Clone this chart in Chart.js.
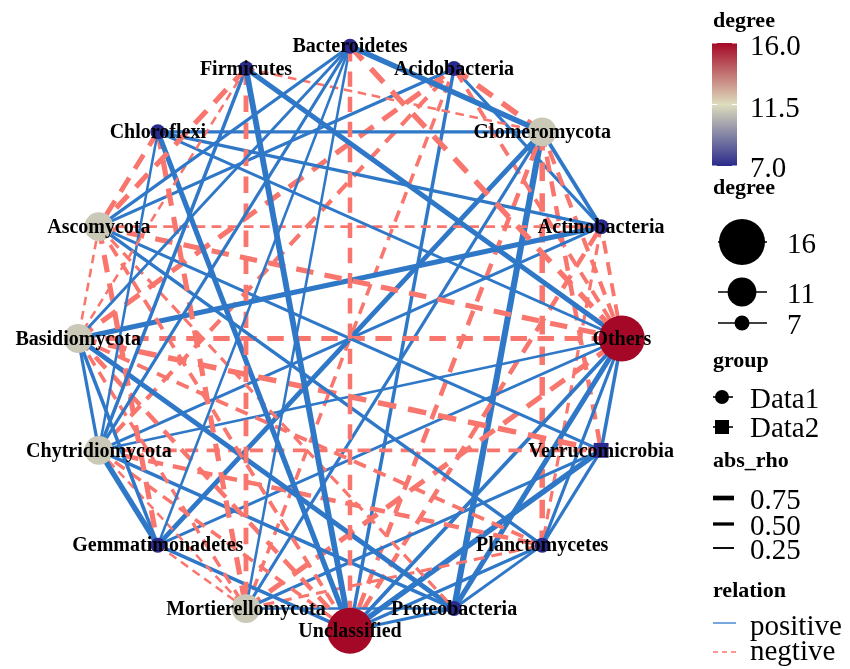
<!DOCTYPE html>
<html>
<head>
<meta charset="utf-8">
<script src="https://cdn.jsdelivr.net/npm/chart.js@4.4.1/dist/chart.umd.min.js"></script>
<style>
  html, body { margin: 0; padding: 0; background: #fff; }
</style>
</head>
<body>
<canvas id="net" width="850" height="669"></canvas>
<script>
// nodes in circle order, clockwise from the top
const taxa = ['Bacteroidetes', 'Acidobacteria', 'Glomeromycota', 'Actinobacteria', 'Others',
  'Verrucomicrobia', 'Planctomycetes', 'Proteobacteria', 'Unclassified', 'Mortierellomycota',
  'Gemmatimonadetes', 'Chytridiomycota', 'Basidiomycota', 'Ascomycota', 'Chloroflexi', 'Firmicutes'];
const degree = [7, 7, 11, 7, 16, 7, 7, 7, 16, 11, 7, 11, 11, 11, 7, 7];
const group = ['Data1', 'Data1', 'Data1', 'Data1', 'Data1', 'Data2', 'Data1', 'Data1',
  'Data1', 'Data1', 'Data1', 'Data1', 'Data1', 'Data1', 'Data1', 'Data1'];

// correlation edges
const edgeFrom = [
  'Bacteroidetes', 'Bacteroidetes', 'Bacteroidetes', 'Bacteroidetes', 'Bacteroidetes', 'Bacteroidetes', 'Bacteroidetes', 'Bacteroidetes',
  'Firmicutes', 'Firmicutes', 'Firmicutes', 'Firmicutes', 'Firmicutes', 'Firmicutes', 'Firmicutes',
  'Chloroflexi', 'Chloroflexi', 'Chloroflexi', 'Chloroflexi', 'Chloroflexi', 'Chloroflexi', 'Chloroflexi',
  'Ascomycota', 'Ascomycota', 'Ascomycota', 'Ascomycota', 'Ascomycota', 'Ascomycota', 'Ascomycota', 'Ascomycota', 'Ascomycota',
  'Basidiomycota', 'Basidiomycota', 'Basidiomycota', 'Basidiomycota', 'Basidiomycota', 'Basidiomycota', 'Basidiomycota', 'Basidiomycota', 'Basidiomycota',
  'Chytridiomycota', 'Chytridiomycota', 'Chytridiomycota', 'Chytridiomycota', 'Chytridiomycota', 'Chytridiomycota', 'Chytridiomycota', 'Chytridiomycota', 'Chytridiomycota', 'Chytridiomycota',
  'Gemmatimonadetes', 'Gemmatimonadetes', 'Gemmatimonadetes', 'Gemmatimonadetes',
  'Mortierellomycota', 'Mortierellomycota', 'Mortierellomycota', 'Mortierellomycota', 'Mortierellomycota', 'Mortierellomycota',
  'Unclassified', 'Unclassified', 'Unclassified', 'Unclassified', 'Unclassified', 'Unclassified', 'Unclassified',
  'Others', 'Others', 'Others', 'Others', 'Others', 'Others',
  'Glomeromycota', 'Glomeromycota', 'Glomeromycota', 'Glomeromycota', 'Glomeromycota',
  'Verrucomicrobia', 'Planctomycetes', 'Actinobacteria', 'Acidobacteria'];
const edgeTo = [
  'Unclassified', 'Glomeromycota', 'Ascomycota', 'Basidiomycota', 'Chytridiomycota', 'Gemmatimonadetes', 'Mortierellomycota', 'Others',
  'Unclassified', 'Others', 'Glomeromycota', 'Ascomycota', 'Basidiomycota', 'Mortierellomycota', 'Chytridiomycota',
  'Glomeromycota', 'Unclassified', 'Actinobacteria', 'Ascomycota', 'Chytridiomycota', 'Mortierellomycota', 'Others',
  'Actinobacteria', 'Acidobacteria', 'Gemmatimonadetes', 'Planctomycetes', 'Verrucomicrobia', 'Basidiomycota', 'Unclassified', 'Proteobacteria', 'Others',
  'Others', 'Actinobacteria', 'Proteobacteria', 'Gemmatimonadetes', 'Verrucomicrobia', 'Unclassified', 'Mortierellomycota', 'Acidobacteria', 'Planctomycetes',
  'Verrucomicrobia', 'Gemmatimonadetes', 'Mortierellomycota', 'Proteobacteria', 'Others', 'Actinobacteria', 'Planctomycetes', 'Acidobacteria', 'Unclassified', 'Basidiomycota',
  'Glomeromycota', 'Mortierellomycota', 'Unclassified', 'Others',
  'Proteobacteria', 'Acidobacteria', 'Glomeromycota', 'Verrucomicrobia', 'Planctomycetes', 'Others',
  'Glomeromycota', 'Verrucomicrobia', 'Planctomycetes', 'Proteobacteria', 'Others', 'Actinobacteria', 'Acidobacteria',
  'Glomeromycota', 'Actinobacteria', 'Verrucomicrobia', 'Planctomycetes', 'Proteobacteria', 'Acidobacteria',
  'Actinobacteria', 'Planctomycetes', 'Proteobacteria', 'Verrucomicrobia', 'Acidobacteria',
  'Planctomycetes', 'Proteobacteria', 'Planctomycetes', 'Actinobacteria'];
const edgeRho = [
  -0.6, 0.75, 0.4, 0.35, 0.4, 0.3, 0.3, -0.75,
  0.8, 0.7, -0.3, -0.7, -0.3, -0.65, 0.45,
  0.4, 0.7, 0.4, -0.65, 0.3, -0.7, 0.35,
  -0.35, 0.4, -0.7, 0.45, 0.4, -0.3, -0.5, -0.4, -0.7,
  -0.65, 0.7, 0.65, 0.45, -0.75, -0.6, -0.45, -0.7, -0.5,
  -0.5, 0.75, -0.3, 0.45, 0.3, 0.35, -0.6, -0.55, -0.45, 0.4,
  0.65, -0.3, 0.45, 0.35,
  0.3, -0.45, 0.4, 0.4, -0.4, -0.7,
  -0.6, 0.75, 0.4, 0.4, 0.5, -0.6, 0.45,
  -0.55, -0.5, 0.45, 0.4, 0.7, -0.5,
  0.5, -0.75, 0.85, -0.6, -0.75,
  0.4, 0.35, -0.4, 0.4];

const degreeTicks = [16.0, 11.5, 7.0];
const sizeBreaks = [16, 11, 7];
const rhoBreaks = [0.75, 0.50, 0.25];
const groups = ['Data1', 'Data2'];
const relations = ['positive', 'negtive'];

const POS = '#2f78c8';
const NEG = '#f8766d';
const serif = '"Liberation Serif", "DejaVu Serif", serif';

// circular layout
const xy = taxa.map((_, i) => {
  const a = Math.PI / 2 - i * 2 * Math.PI / taxa.length;
  return { x: Math.cos(a), y: Math.sin(a) };
});

function nodeRadius(d) { return 7.5 + (d - 7) * 15.5 / 9; }
function edgeWidth(r) { return 0.6 + r * 6.5; }
function dashFor(w) { return [3.4 * w, 2.2 * w]; }

const lowC = [42, 42, 140], midC = [222, 221, 190], highC = [165, 8, 38];
function degColour(d) {
  const t = Math.max(0, Math.min(1, (d - 7) / 9));
  const [a, b, u] = t < 0.5 ? [lowC, midC, t * 2] : [midC, highC, (t - 0.5) * 2];
  const c = a.map((v, k) => Math.round(v + (b[k] - v) * u));
  return `rgb(${c[0]},${c[1]},${c[2]})`;
}

const edgeSets = edgeFrom.map((f, k) => {
  const rho = edgeRho[k];
  const w = edgeWidth(Math.abs(rho));
  return {
    data: [xy[taxa.indexOf(f)], xy[taxa.indexOf(edgeTo[k])]],
    showLine: true,
    borderColor: rho > 0 ? POS : NEG,
    borderWidth: w,
    borderDash: rho > 0 ? [] : dashFor(w),
    pointRadius: 0,
    pointHoverRadius: 0,
    order: 1,
    clip: false
  };
});

const nodeSet = {
  data: xy,
  pointRadius: degree.map((d, i) => nodeRadius(d) * (group[i] === 'Data2' ? 1.4 : 1)),
  pointStyle: group.map(g => g === 'Data2' ? 'rect' : 'circle'),
  backgroundColor: degree.map(degColour),
  borderColor: degree.map(degColour),
  borderWidth: 0,
  showLine: false,
  order: 0,
  clip: false
};

const nodeLabels = {
  id: 'nodeLabels',
  afterDatasetsDraw(chart) {
    const { ctx, scales: { x, y } } = chart;
    ctx.save();
    ctx.font = `bold 20px ${serif}`;
    ctx.fillStyle = '#000';
    ctx.textAlign = 'center';
    ctx.textBaseline = 'middle';
    taxa.forEach((t, i) => {
      ctx.fillText(t, x.getPixelForValue(xy[i].x), y.getPixelForValue(xy[i].y) + 1);
    });
    ctx.restore();
  }
};

// ggplot-style guides on the right
const guides = {
  id: 'guides',
  afterDraw(chart) {
    const ctx = chart.ctx;
    const tx = 713, lx = 750;
    ctx.save();
    ctx.fillStyle = '#000';
    ctx.textAlign = 'left';
    ctx.textBaseline = 'alphabetic';
    const title = (s, yb) => { ctx.font = `bold 22px ${serif}`; ctx.fillText(s, tx, yb); };
    const label = (s, yb, xx = lx) => { ctx.font = `29px ${serif}`; ctx.fillText(s, xx, yb); };

    // colour bar
    title('degree', 27);
    const bx = 712, bw = 25, top = 43, bot = 166;
    const grad = ctx.createLinearGradient(0, bot, 0, top);
    for (let s = 0; s <= 20; s++) grad.addColorStop(s / 20, degColour(7 + 9 * s / 20));
    ctx.fillStyle = grad;
    ctx.fillRect(bx, top, bw, bot - top);
    ctx.strokeStyle = '#fff';
    ctx.lineWidth = 1;
    degreeTicks.forEach(v => {
      const yy = bot - (v - 7) / 9 * (bot - top);
      ctx.beginPath();
      ctx.moveTo(bx, yy); ctx.lineTo(bx + 5, yy);
      ctx.moveTo(bx + bw - 5, yy); ctx.lineTo(bx + bw, yy);
      ctx.stroke();
    });
    ctx.fillStyle = '#000';
    label(degreeTicks[0].toFixed(1), 55);
    label(degreeTicks[1].toFixed(1), 117);
    label(degreeTicks[2].toFixed(1), 177);

    // node size
    title('degree', 194);
    const sizeY = [242, 292, 323];
    ctx.strokeStyle = '#000';
    sizeBreaks.forEach((d, k) => {
      ctx.lineWidth = 1.6;
      ctx.beginPath(); ctx.moveTo(718, sizeY[k]); ctx.lineTo(767, sizeY[k]); ctx.stroke();
      ctx.beginPath(); ctx.arc(742, sizeY[k], nodeRadius(d), 0, Math.PI * 2); ctx.fill();
      label(String(d), sizeY[k] + 11, 787);
    });

    // node shape
    title('group', 367);
    ctx.lineWidth = 1.6;
    ctx.beginPath(); ctx.moveTo(713, 397); ctx.lineTo(733, 397); ctx.stroke();
    ctx.beginPath(); ctx.arc(722, 397, 7, 0, Math.PI * 2); ctx.fill();
    ctx.beginPath(); ctx.moveTo(713, 427); ctx.lineTo(733, 427); ctx.stroke();
    ctx.fillRect(715, 420, 14, 14);
    label(groups[0], 408);
    label(groups[1], 437);

    // edge width
    title('abs_rho', 467);
    const wY = [498, 524, 548];
    rhoBreaks.forEach((r, k) => {
      ctx.lineWidth = edgeWidth(r) * 0.85;
      ctx.beginPath(); ctx.moveTo(713, wY[k]); ctx.lineTo(734, wY[k]); ctx.stroke();
      label(r.toFixed(2), wY[k] + 11);
    });

    // edge type
    title('relation', 597);
    ctx.lineWidth = 1.3;
    ctx.strokeStyle = POS;
    ctx.beginPath(); ctx.moveTo(713, 623); ctx.lineTo(736, 623); ctx.stroke();
    ctx.strokeStyle = NEG;
    ctx.setLineDash([5, 4]);
    ctx.beginPath(); ctx.moveTo(713, 652); ctx.lineTo(736, 652); ctx.stroke();
    ctx.setLineDash([]);
    label(relations[0], 635);
    label(relations[1], 660);
    ctx.restore();
  }
};

new Chart(document.getElementById('net').getContext('2d'), {
  type: 'scatter',
  data: { datasets: [nodeSet, ...edgeSets] },
  options: {
    responsive: false,
    animation: false,
    events: [],
    layout: { autoPadding: false, padding: { left: 51, right: 201, top: 17, bottom: 9 } },
    scales: {
      x: { type: 'linear', min: -1.1, max: 1.1, display: false },
      y: { type: 'linear', min: -1.1, max: 1.1, display: false }
    },
    plugins: { legend: { display: false }, tooltip: { enabled: false } }
  },
  plugins: [nodeLabels, guides]
});
</script>
</body>
</html>
